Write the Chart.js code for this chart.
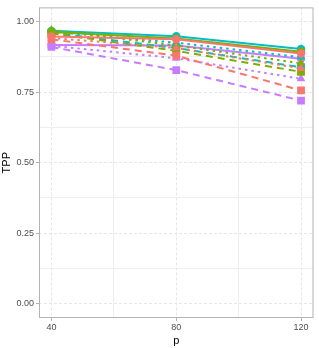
<!DOCTYPE html>
<html>
<head>
<meta charset="utf-8">
<script src="https://cdn.jsdelivr.net/npm/chart.js@4.4.1/dist/chart.umd.min.js"></script>
<style>
  html, body { margin: 0; padding: 0; background: #fff; }
  #wrap { width: 319px; height: 348px; }
</style>
</head>
<body>
<div id="wrap"><canvas id="tppChart" width="319" height="348"></canvas></div>
<script>
const pLevels = [40, 80, 120];
const xTicks = [40, 80, 120];
const yTicks = [0, 0.25, 0.5, 0.75, 1];

const redSolid = [0.947, 0.937, 0.887];
const redDotted = [0.942, 0.906, 0.834];
const redDashed = [0.937, 0.879, 0.756];
const oliveSolid = [0.963, 0.940, 0.893];
const oliveDotted = [0.970, 0.915, 0.852];
const oliveDashed = [0.958, 0.896, 0.822];
const tealSolid = [0.967, 0.948, 0.903];
const tealDotted = [0.964, 0.925, 0.874];
const tealDashed = [0.960, 0.906, 0.838];
const purpleSolid = [0.917, 0.915, 0.868];
const purpleDotted = [0.914, 0.870, 0.797];
const purpleDashed = [0.910, 0.828, 0.720];

const RED = '#F8766D', OLIVE = '#7CAE00', TEAL = '#00BFC4', PURPLE = '#C77CFF';

function series(values, color, kind) {
    const dash = kind === 'dashed' ? [7, 5] : kind === 'dotted' ? [2.5, 4] : [];
    const shape = kind === 'dashed' ? 'rect' : kind === 'dotted' ? 'triangle' : 'circle';
    const size = kind === 'dashed' ? 5.5 : kind === 'dotted' ? 5 : 4.2;
    return {
        data: values.map((v, i) => ({ x: pLevels[i], y: v })),
        borderColor: color,
        backgroundColor: color,
        borderWidth: 2,
        borderDash: dash,
        pointStyle: shape,
        pointRadius: size,
        pointBorderWidth: 0,
        pointHoverRadius: size,
        tension: 0
    };
}

const datasets = [
    series(redDashed, RED, 'dashed'),
    series(redDotted, RED, 'dotted'),
    series(redSolid, RED, 'solid'),
    series(oliveDashed, OLIVE, 'dashed'),
    series(oliveDotted, OLIVE, 'dotted'),
    series(oliveSolid, OLIVE, 'solid'),
    series(tealDashed, TEAL, 'dashed'),
    series(tealDotted, TEAL, 'dotted'),
    series(tealSolid, TEAL, 'solid'),
    series(purpleDashed, PURPLE, 'dashed'),
    series(purpleDotted, PURPLE, 'dotted'),
    series(purpleSolid, PURPLE, 'solid')
];

// grey frame round the panel
const panelBorder = {
    id: 'panelBorder',
    afterDraw(chart) {
        const { ctx, chartArea: a } = chart;
        ctx.save();
        ctx.strokeStyle = '#B3B3B3';
        ctx.lineWidth = 1;
        ctx.strokeRect(a.left + 0.5, a.top + 0.5, a.right - a.left - 1, a.bottom - a.top - 1);
        ctx.restore();
    }
};

const isMajor = (list, v) => list.some(t => Math.abs(t - v) < 1e-6);
const FONT = "'Liberation Sans', Arial, sans-serif";

new Chart(document.getElementById('tppChart'), {
    type: 'line',
    data: { datasets: datasets },
    plugins: [panelBorder],
    options: {
        responsive: false,
        animation: false,
        layout: { padding: { top: 4, right: 4, left: 0, bottom: 0 } },
        plugins: { legend: { display: false }, tooltip: { enabled: false } },
        scales: {
            x: {
                type: 'linear',
                min: 36,
                max: 124,
                afterBuildTicks: s => { s.ticks = [40, 60, 80, 100, 120].map(v => ({ value: v })); },
                afterFit: s => { s.height = 30; },
                ticks: {
                    color: '#4D4D4D',
                    font: { family: FONT, size: 9 },
                    padding: 1,
                    maxRotation: 0,
                    callback: v => isMajor(xTicks, v) ? String(v) : ''
                },
                grid: {
                    color: c => c.tick && isMajor(xTicks, c.tick.value) ? '#E6E6E6' : '#EEEEEE',
                    lineWidth: 1,
                    tickLength: 3,
                    tickColor: c => c.tick && isMajor(xTicks, c.tick.value) ? '#B3B3B3' : 'rgba(0,0,0,0)'
                },
                border: {
                    display: false,
                    dash: c => c.tick && isMajor(xTicks, c.tick.value) ? [3, 2] : []
                },
                title: {
                    display: true,
                    text: 'p',
                    color: '#000',
                    font: { family: FONT, size: 11 },
                    padding: { top: 0, bottom: 0 }
                }
            },
            y: {
                min: -0.05,
                max: 1.05,
                afterBuildTicks: s => { s.ticks = [0, 0.125, 0.25, 0.375, 0.5, 0.625, 0.75, 0.875, 1].map(v => ({ value: v })); },
                afterFit: s => { s.width = 39; },
                ticks: {
                    color: '#4D4D4D',
                    font: { family: FONT, size: 9 },
                    padding: 2,
                    callback: v => isMajor(yTicks, v) ? v.toFixed(2) : ''
                },
                grid: {
                    color: c => c.tick && isMajor(yTicks, c.tick.value) ? '#E6E6E6' : '#EEEEEE',
                    lineWidth: 1,
                    tickLength: 3,
                    tickColor: c => c.tick && isMajor(yTicks, c.tick.value) ? '#B3B3B3' : 'rgba(0,0,0,0)'
                },
                border: {
                    display: false,
                    dash: c => c.tick && isMajor(yTicks, c.tick.value) ? [3, 2] : []
                },
                title: {
                    display: true,
                    text: 'TPP',
                    color: '#000',
                    font: { family: FONT, size: 11 },
                    padding: { top: 0, bottom: 4 }
                }
            }
        }
    }
});
</script>
</body>
</html>
